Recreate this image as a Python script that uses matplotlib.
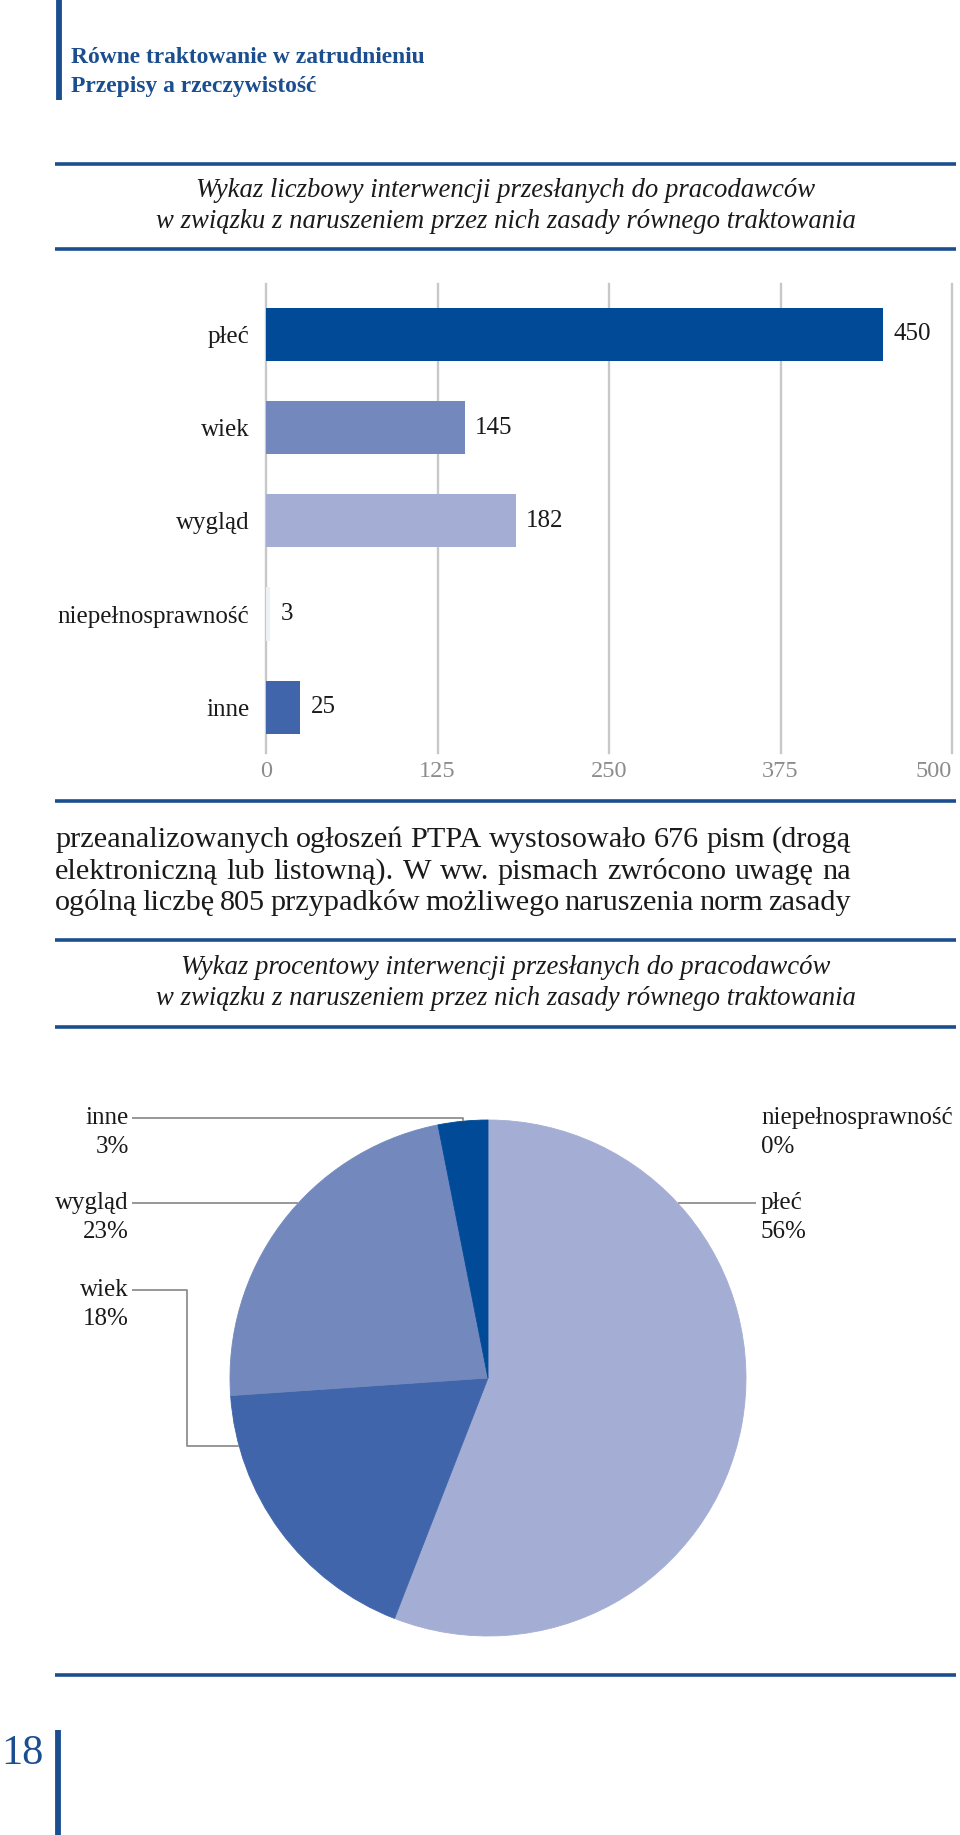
"""Equal-treatment report page: bar chart + pie chart of employer interventions."""

import matplotlib

matplotlib.use("Agg")

import matplotlib.pyplot as plt
import numpy as np

# --------------------------------------------------------------------------- #
# Data
# --------------------------------------------------------------------------- #

categories = ["płeć", "wiek", "wygląd", "niepełnosprawność", "inne"]
counts = [450, 145, 182, 3, 25]
x_ticks = [0, 125, 250, 375, 500]

header_lines = ["Równe traktowanie w zatrudnieniu", "Przepisy a rzeczywistość"]
title_count = [
    "Wykaz liczbowy interwencji przesłanych do pracodawców",
    "w związku z naruszeniem przez nich zasady równego traktowania",
]
title_pct = [
    "Wykaz procentowy interwencji przesłanych do pracodawców",
    "w związku z naruszeniem przez nich zasady równego traktowania",
]
body_lines = [
    "przeanalizowanych ogłoszeń PTPA wystosowało 676 pism (drogą",
    "elektroniczną lub listowną). W ww. pismach zwrócono uwagę na",
    "ogólną liczbę 805 przypadków możliwego naruszenia norm zasady",
]
page_number = "18"

# --------------------------------------------------------------------------- #
# Theme
# --------------------------------------------------------------------------- #

_W, _H = 960, 1835
_DPI = 100
_NAVY = "#1b4e8f"
_TEXT = "#1a1a1a"
_TICK = "#8c8c8c"
_GRID = "#c8c8c8"
_LEADER = "#8f8f8f"
_SERIF = ["Liberation Serif", "DejaVu Serif"]

# bar chart and pie use the palette in different orders
bar_colors = ["#004a97", "#7389bd", "#a4aed4", "#eef0f7", "#4065aa"]
pie_colors = ["#a4aed4", "#4065aa", "#7389bd", "#7389bd", "#004a97"]

plt.rcParams["font.family"] = _SERIF


def px_rect(left, top, right, bottom):
    """Pixel box (y down) -> figure fraction rect."""
    return [left / _W, 1 - bottom / _H, (right - left) / _W, (bottom - top) / _H]


fig = plt.figure(figsize=(_W / _DPI, _H / _DPI), dpi=_DPI, facecolor="white")
renderer = fig.canvas.get_renderer()

# page layer in pixel coordinates, y pointing down
page = fig.add_axes([0, 0, 1, 1])
page.set_xlim(0, _W)
page.set_ylim(_H, 0)
page.axis("off")

# side bars
page.plot([58.5, 58.5], [0, 100], color=_NAVY, linewidth=4.2, solid_capstyle="butt")
page.plot([57.5, 57.5], [1730, _H], color=_NAVY, linewidth=4.2, solid_capstyle="butt")

for i, line in enumerate(header_lines):
    page.text(71, 63 + 29 * i, line, color=_NAVY, fontsize=16.9, fontweight="bold",
              va="baseline", ha="left")

page.text(44, 1764, page_number, color=_NAVY, fontsize=30.5, ha="right", va="baseline")

# horizontal rules
for y in (164, 249, 801, 940, 1027, 1675):
    page.plot([55, 956], [y, y], color=_NAVY, linewidth=2.6, solid_capstyle="butt")

for i, line in enumerate(title_count):
    page.text(506, 197 + 31 * i, line, color=_TEXT, fontsize=19.3, style="italic",
              ha="center", va="baseline")
for i, line in enumerate(title_pct):
    page.text(506, 974 + 31 * i, line, color=_TEXT, fontsize=19.3, style="italic",
              ha="center", va="baseline")


def justified(line, x0, x1, y, **kw):
    """Spread the words of one line between x0 and x1 (page pixels)."""
    words = line.split()
    texts = [page.text(0, y, w, va="baseline", ha="left", **kw) for w in words]
    widths = [t.get_window_extent(renderer).width for t in texts]
    gap = (x1 - x0 - sum(widths)) / (len(words) - 1)
    x = x0
    for t, wd in zip(texts, widths):
        t.set_x(x)
        x += wd + gap


for i, line in enumerate(body_lines):
    justified(line, 55, 851, 847 + 31.5 * i, color=_TEXT, fontsize=21.8)

# --------------------------------------------------------------------------- #
# Bar chart
# --------------------------------------------------------------------------- #

ax = fig.add_axes(px_rect(266, 284, 952, 753))
ypos = np.arange(len(categories))
ax.barh(ypos, counts, height=0.57, color=bar_colors, zorder=3)
ax.set_xlim(0, 500)
ax.set_ylim(4.49, -0.54)
ax.set_xticks(x_ticks)
ax.set_xticklabels([str(t) for t in x_ticks])
ax.get_xticklabels()[-1].set_ha("right")
ax.set_yticks(ypos)
ax.set_yticklabels(categories)
ax.grid(axis="x", color=_GRID, linewidth=1.7, zorder=0)
for gl in ax.get_xgridlines():
    gl.set_clip_on(False)
for s in ax.spines.values():
    s.set_visible(False)
ax.tick_params(axis="x", length=0, pad=6, labelsize=17.5, labelcolor=_TICK)
ax.tick_params(axis="y", length=0, pad=12, labelsize=18, labelcolor=_TEXT)
ax.set_facecolor("none")

for y, v in zip(ypos, counts):
    ax.annotate(str(v), (v, y), xytext=(7.5, 0), textcoords="offset points",
                va="center", ha="left", fontsize=18, color=_TEXT)

# --------------------------------------------------------------------------- #
# Pie chart
# --------------------------------------------------------------------------- #

pax = fig.add_axes(px_rect(230, 1120, 746, 1636))
wedges, _ = pax.pie(counts, colors=pie_colors, startangle=90, counterclock=False,
                    radius=1, wedgeprops={"linewidth": 0.6})
for w in wedges:
    w.set_edgecolor(w.get_facecolor())
pax.set_xlim(-1, 1)
pax.set_ylim(-1, 1)
pax.set_aspect("equal")
pax.axis("off")

total = sum(counts)
pct = [f"{round(v / total * 100)}%" for v in counts]


def d(px_x=None, px_y=None):
    """Page pixels -> pie data units (center 488,1378, radius 258 px)."""
    out = []
    if px_x is not None:
        out.append((px_x - 488) / 258)
    if px_y is not None:
        out.append((1378 - px_y) / 258)
    return out[0] if len(out) == 1 else tuple(out)


def edge_x(y, side):
    return side * np.sqrt(1 - y * y)


lab_kw = dict(fontsize=18, color=_TEXT, va="center")
left_x = d(px_x=129)
right_x = d(px_x=761)
line_l = d(px_x=132)

# (index, name y px, side)
label_rows = [(4, 1118, -1), (2, 1203, -1), (1, 1290, -1), (3, 1118, 1), (0, 1203, 1)]
for idx, ypx, side in label_rows:
    tx = left_x if side < 0 else right_x
    ha = "right" if side < 0 else "left"
    pax.text(tx, d(px_y=ypx), categories[idx], ha=ha, clip_on=False, **lab_kw)
    pax.text(tx, d(px_y=ypx + 29), pct[idx], ha=ha, clip_on=False, **lab_kw)

lk = dict(color=_LEADER, linewidth=1.3, clip_on=False, solid_capstyle="butt")

# inne: over the top to the wedge middle
w = wedges[4]
mid = np.deg2rad((w.theta1 + w.theta2) / 2)
ya = d(px_y=1118)
pax.plot([line_l, np.cos(mid), np.cos(mid)], [ya, ya, np.sin(mid)], **lk)

# wygląd: straight to the rim
ya = d(px_y=1203)
pax.plot([line_l, edge_x(ya, -1)], [ya, ya], **lk)

# płeć: from the rim to the label
pax.plot([edge_x(ya, 1), d(px_x=756)], [ya, ya], **lk)

# wiek: elbow down the left side
ya = d(px_y=1290)
yb = d(px_y=1446)
xe = d(px_x=187)
pax.plot([line_l, xe, xe, edge_x(yb, -1)], [ya, ya, yb, yb], **lk)

fig.savefig("out.png", dpi=_DPI, facecolor="white")
plt.close(fig)
